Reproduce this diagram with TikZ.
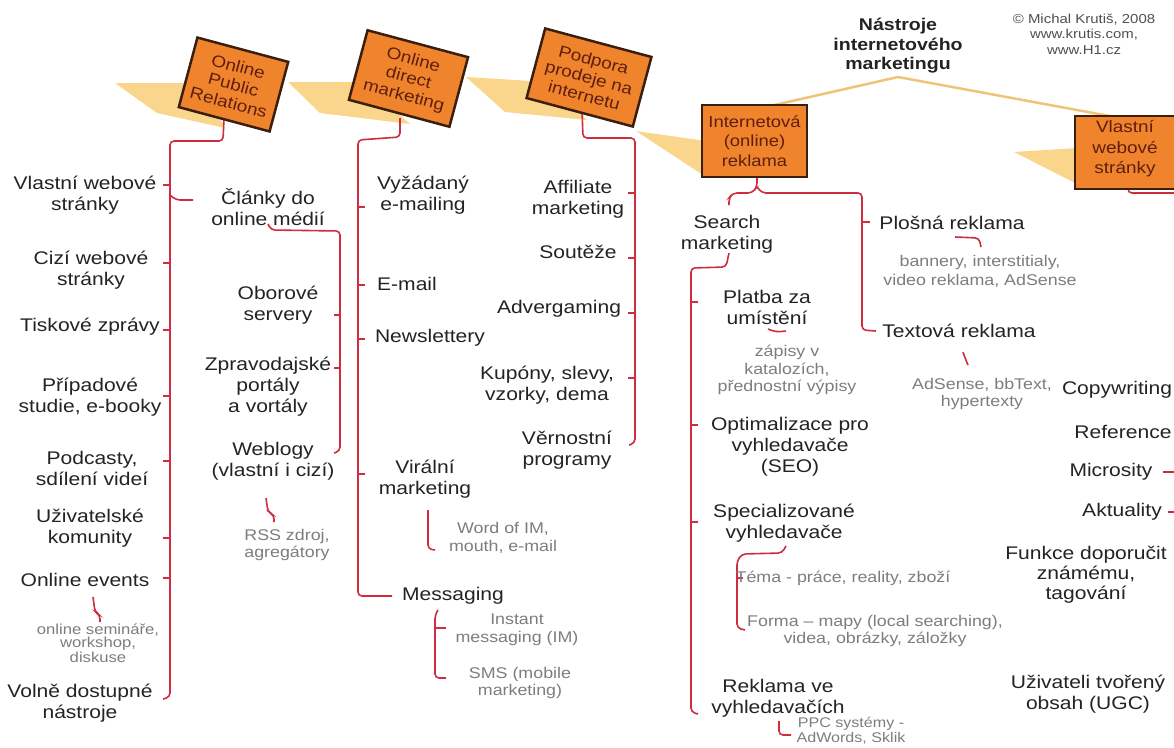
\documentclass[tikz,border=0pt]{standalone}
\usepackage{fontspec}
\setmainfont{Liberation Sans}[FakeStretch=1.15]
\usetikzlibrary{calc}
\definecolor{bandc}{RGB}{249,214,140}
\definecolor{bandline}{RGB}{238,196,118}
\definecolor{boxfill}{RGB}{240,132,45}
\definecolor{boxline}{RGB}{58,30,14}
\definecolor{boxtxt}{RGB}{95,30,15}
\definecolor{redl}{RGB}{205,45,62}
\definecolor{txt}{RGB}{35,35,35}
\definecolor{gtxt}{RGB}{125,125,125}
\definecolor{ctxt}{RGB}{80,80,80}
\tikzset{
  lbl/.style={align=center, font=\fontsize{18.3}{21}\selectfont, text=txt, inner sep=0pt},
  gry/.style={align=center, font=\fontsize{15.5}{17.5}\selectfont, text=gtxt, inner sep=0pt},
  boxsty/.style={draw=boxline, line width=2.5pt, fill=boxfill},
  boxnode/.style={boxsty, text=boxtxt, align=center, font=\fontsize{16.5}{18.5}\selectfont,
     minimum height=72pt, inner sep=1pt},
  boxtext/.style={text=boxtxt, align=center, font=\fontsize{16.5}{20.5}\selectfont, inner sep=0pt},
  rl/.style={draw=redl, line width=1.6pt, rounded corners=4pt},
  band/.style={fill=bandc, draw=none},
}
\begin{document}
\begin{tikzpicture}[x=1pt,y=-1pt]
\useasboundingbox (0,0) rectangle (1174,747);

% ---------- ribbon ----------
\fill[band] (115,83) -- (200,83) -- (225,128) -- (157,113) -- cycle;
\fill[band] (288,82) -- (362,82) -- (410,124) -- (320,113) -- cycle;
\fill[band] (466,77) -- (548,82) -- (587,120) -- (505,112) -- cycle;
\fill[band] (636,131) -- (706,141) -- (706,177) -- cycle;
\fill[band] (1014,152) -- (1077,148) -- (1077,184) -- cycle;
\draw[bandline, line width=2.5pt, line join=round] (770,106) -- (898,77) -- (1115,117);

% ---------- coordinates ----------
\coordinate (r1s) at (224,118);
\coordinate (r2s) at (400,118);
\coordinate (r3s) at (582,110);
\coordinate (r4s) at (757,170);
\coordinate (r5s) at (1128,180);

% ---------- red connectors: tree 1 ----------
\draw[rl] (r1s) -- (223,141) -- (170,141) -- (170,697) -- (163,699);
\foreach \yy in {185,263,330,396,461,538,578} \draw[rl] (170,\yy) -- (163,\yy);
\draw[rl] (170,195) -- (176,200) -- (193,200);
\draw[rl] (268,224) -- (271,230) -- (340,231) -- (340,451) -- (334,453);
\foreach \yy in {315,368} \draw[rl] (340,\yy) -- (334,\yy);
\draw[rl] (266,498) -- (268,512) -- (274,515) -- (274,522);
\draw[rl] (93,597) -- (95,612) -- (100,615) -- (100,622);

% ---------- tree 2 ----------
\draw[rl] (r2s) -- (400,137) -- (358,140) -- (358,596) -- (392,596);
\foreach \yy in {207,285,339,474} \draw[rl] (358,\yy) -- (365,\yy);
\draw[rl] (428,510) -- (428,549) -- (435,550);
\draw[rl] (438,610) -- (435,615) -- (435,678) -- (446,678);
\draw[rl] (435,628) -- (446,628);

% ---------- tree 3 ----------
\draw[rl] (r3s) -- (583,138) -- (635,138) -- (635,443) -- (629,445);
\foreach \yy in {193,258,313,378} \draw[rl] (635,\yy) -- (628,\yy);

% ---------- tree 4 ----------
\draw[rl] (r4s) -- (757,187) -- (752,193) -- (733,193) -- (729,198) -- (729,205);
\draw[rl] (757,187) -- (762,193) -- (862,193) -- (862,330) -- (876,331);
\draw[rl] (862,222) -- (870,222);
\draw[rl] (955,237) -- (979,238) -- (981,247);
\draw[rl] (963,352) -- (965,358) -- (968,365);
\draw[rl] (729,253) -- (726,267) -- (691,268) -- (691,712) -- (698,714);
\foreach \yy in {302,425,522} \draw[rl] (691,\yy) -- (698,\yy);
\draw[rl] (768,329) -- (776,332) -- (786,331);
\draw[rl] (786,546) -- (782,553) -- (742,554) -- (737,561) -- (737,628) -- (745,630);
\draw[rl] (737,578) -- (743,578);
\draw[rl] (779,721) -- (779,735) -- (791,735);

% ---------- tree 5 ----------
\draw[rl] (r5s) -- (1128,193) -- (1180,193);
\draw[rl] (1163,472) -- (1174,472);
\draw[rl] (1168,512) -- (1174,512);

% ---------- boxes ----------
\node[boxnode, rotate=-15, minimum width=94pt] (B1) at (233.5,84.5) {Online\\Public\\Relations};
\node[boxnode, rotate=-15, minimum width=104pt] (B2) at (408.5,78.5) {Online\\direct\\marketing};
\node[boxnode, rotate=-15, minimum width=110pt] (B3) at (589,77.5) {Podpora\\prodeje na\\internetu};
\node[boxnode, minimum width=105pt, font=\fontsize{16}{19.5}\selectfont] (B4) at (754.5,141) {Internetová\\(online)\\reklama};
\path[boxsty] (1075,116) rectangle (1190,189);
\node[boxtext] (B5) at (1125,149) {Vlastní\\webové\\stránky};

% ---------- title ----------
\node[align=center, font=\bfseries\fontsize{17}{19.5}\selectfont, text=txt, inner sep=0pt] (T) at (898,46) {Nástroje\\internetového\\marketingu};
\node[align=center, font=\fontsize{13}{15.5}\selectfont, text=ctxt, inner sep=0pt] (C) at (1084,34) {© Michal Krutiš, 2008\\www.krutis.com,\\www.H1.cz};

% ---------- column 1 ----------
\node[lbl] (L1) at (85,195) {Vlastní webové\\stránky};
\node[lbl] (L2) at (91,270) {Cizí webové\\stránky};
\node[lbl] (L3) at (90,327) {Tiskové zprávy};
\node[lbl] (L4) at (90,397) {Případové\\studie, e-booky};
\node[lbl] (L5) at (92,468) {Podcasty,\\sdílení videí};
\node[lbl] (L6) at (90,528) {Uživatelské\\komunity};
\node[lbl] (L7) at (85,580) {Online events};
\node[gry, font=\fontsize{14.5}{13}\selectfont] (L7g) at (98,643) {online semináře,\\workshop,\\diskuse};
\node[lbl] (L8) at (80,703) {Volně dostupné\\nástroje};

% ---------- column 1b ----------
\node[lbl] (C0) at (268,207) {Články do\\online médií};
\node[lbl] (C1) at (278,305) {Oborové\\servery};
\node[lbl] (C2) at (268,387) {Zpravodajské\\portály\\a vortály};
\node[lbl] (C3) at (273,461) {Weblogy\\(vlastní i cizí)};
\node[gry] (C3g) at (287,545) {RSS zdroj,\\agregátory};

% ---------- tree 2 ----------
\node[lbl] (D1) at (423,195) {Vyžádaný\\e-mailing};
\node[lbl] (D2) at (407,284) {E-mail};
\node[lbl] (D3) at (430,338) {Newslettery};
\node[lbl] (D4) at (425,479) {Virální\\marketing};
\node[gry] (D4g) at (503,538) {Word of IM,\\mouth, e-mail};
\node[lbl] (D5) at (453,596) {Messaging};
\node[gry] (D5g) at (517,630) {Instant\\messaging (IM)};
\node[gry] (D6g) at (520,683) {SMS (mobile\\marketing)};

% ---------- tree 3 ----------
\node[lbl] (E1) at (578,199) {Affiliate\\marketing};
\node[lbl] (E2) at (578,252) {Soutěže};
\node[lbl] (E3) at (559,309) {Advergaming};
\node[lbl] (E4) at (547,385) {Kupóny, slevy,\\vzorky, dema};
\node[lbl] (E5) at (567,450) {Věrnostní\\programy};

% ---------- tree 4 ----------
\node[lbl] (F1) at (727,234) {Search\\marketing};
\node[lbl] (F2) at (952,223) {Plošná reklama};
\node[gry, font=\fontsize{15.5}{19}\selectfont] (F2g) at (980,271) {bannery, interstitialy,\\video reklama, AdSense};
\node[lbl] (F3) at (959,331) {Textová reklama};
\node[gry] (F3g) at (982,394) {AdSense, bbText,\\hypertexty};
\node[lbl] (G1) at (767,307) {Platba za\\umístění};
\node[gry] (G1g) at (787,370) {zápisy v\\katalozích,\\přednostní výpisy};
\node[lbl] (G2) at (790,447) {Optimalizace pro\\vyhledavače\\(SEO)};
\node[lbl] (G3) at (784,523) {Specializované\\vyhledavače};
\node[gry] (G3a) at (843,578) {Téma - práce, reality, zboží};
\node[gry] (G3b) at (875,631) {Forma – mapy (local searching),\\videa, obrázky, záložky};
\node[lbl] (G4) at (778,698) {Reklama ve\\vyhledavačích};
\node[gry, font=\fontsize{14}{15}\selectfont] (G4g) at (851,731) {PPC systémy -\\AdWords, Sklik};

% ---------- tree 5 ----------
\node[lbl] (H1) at (1117,390) {Copywriting};
\node[lbl] (H2) at (1123,432) {Reference};
\node[lbl] (H3) at (1111,472) {Microsity};
\node[lbl] (H4) at (1122,512) {Aktuality};
\node[lbl, font=\fontsize{18.3}{20}\selectfont] (H5) at (1086,575) {Funkce doporučit\\známému,\\tagování};
\node[lbl] (H6) at (1088,694) {Uživateli tvořený\\obsah (UGC)};
\end{tikzpicture}
\end{document}
